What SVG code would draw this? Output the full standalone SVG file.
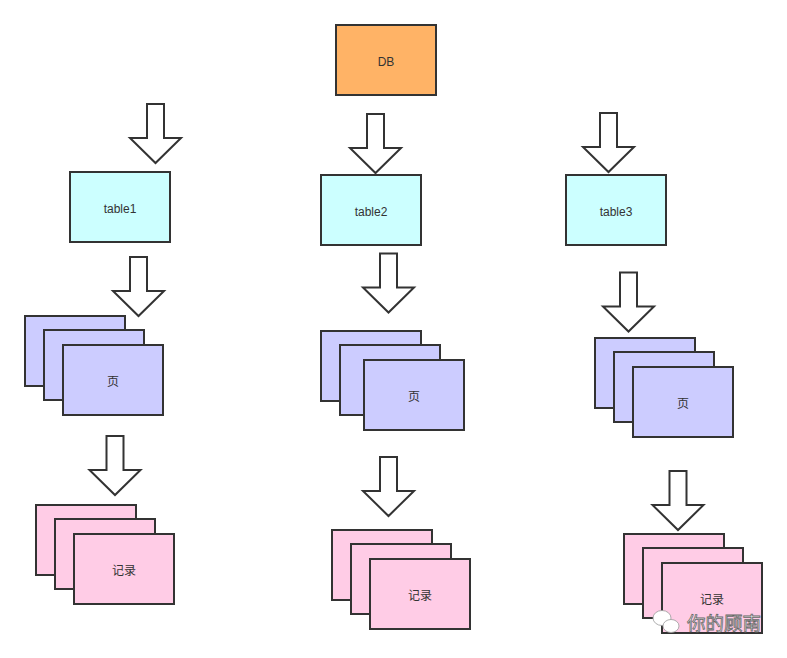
<svg xmlns="http://www.w3.org/2000/svg" xmlns:xlink="http://www.w3.org/1999/xlink" width="787" height="658" viewBox="0 0 787 658">
<style>
.box{stroke:#333333;stroke-width:2}
.db{fill:#FFB366}
.tb{fill:#CCFFFF}
.pg{fill:#CCCCFF}
.rc{fill:#FFCCE6}
.lbl{font-family:"Liberation Sans","Noto Sans CJK SC",sans-serif;font-size:12px;fill:#333333;text-anchor:middle;dominant-baseline:central}
.arrow{fill:#FFFFFF;stroke:#333333;stroke-width:2;stroke-linejoin:miter}
.wm{font-family:"Noto Sans CJK SC",sans-serif;font-size:18.5px;fill:#FFFFFF;stroke:#666666;stroke-width:0.8}
</style>
<defs>
<path id="darrow" class="arrow" d="M-8.5,0 H8.5 V34 H25.5 L0,59 L-25.5,34 H-8.5 Z"/>
</defs>
<g id="connectors">
<use xlink:href="#darrow" href="#darrow" transform="translate(155.5,104)"/>
<use xlink:href="#darrow" href="#darrow" transform="translate(375.5,114)"/>
<use xlink:href="#darrow" href="#darrow" transform="translate(608.5,113)"/>
<use xlink:href="#darrow" href="#darrow" transform="translate(138.5,257)"/>
<use xlink:href="#darrow" href="#darrow" transform="translate(388.5,253.5)"/>
<use xlink:href="#darrow" href="#darrow" transform="translate(628.5,272.5)"/>
<use xlink:href="#darrow" href="#darrow" transform="translate(115,436)"/>
<use xlink:href="#darrow" href="#darrow" transform="translate(388.5,457)"/>
<use xlink:href="#darrow" href="#darrow" transform="translate(678,471)"/>
</g>
<g id="db">
<rect class="box db" x="336" y="25" width="100" height="70"/>
<text class="lbl" x="386" y="61.5">DB</text>
</g>
<g id="table1">
<rect class="box tb" x="70" y="172" width="100" height="70"/>
<text class="lbl" x="120" y="208.5">table1</text>
</g>
<g id="table2">
<rect class="box tb" x="321" y="175" width="100" height="70"/>
<text class="lbl" x="371" y="211.5">table2</text>
</g>
<g id="table3">
<rect class="box tb" x="566" y="175" width="100" height="70"/>
<text class="lbl" x="616" y="211.5">table3</text>
</g>
<g id="pages1">
<rect class="box pg" x="25" y="316" width="100" height="70"/>
<rect class="box pg" x="44" y="330" width="100" height="70"/>
<rect class="box pg" x="63" y="345" width="100" height="70"/>
<text class="lbl" x="113" y="381.5">页</text>
</g>
<g id="pages2">
<rect class="box pg" x="321" y="331" width="100" height="70"/>
<rect class="box pg" x="340" y="345" width="100" height="70"/>
<rect class="box pg" x="364" y="360" width="100" height="70"/>
<text class="lbl" x="414" y="396.5">页</text>
</g>
<g id="pages3">
<rect class="box pg" x="595" y="338" width="100" height="70"/>
<rect class="box pg" x="614" y="352" width="100" height="70"/>
<rect class="box pg" x="633" y="367" width="100" height="70"/>
<text class="lbl" x="683" y="403.5">页</text>
</g>
<g id="records1">
<rect class="box rc" x="36" y="505" width="100" height="70"/>
<rect class="box rc" x="55" y="519" width="100" height="70"/>
<rect class="box rc" x="74" y="534" width="100" height="70"/>
<text class="lbl" x="124" y="570.5">记录</text>
</g>
<g id="records2">
<rect class="box rc" x="332" y="530" width="100" height="70"/>
<rect class="box rc" x="351" y="544" width="100" height="70"/>
<rect class="box rc" x="370" y="559" width="100" height="70"/>
<text class="lbl" x="420" y="595.5">记录</text>
</g>
<g id="records3">
<rect class="box rc" x="624" y="534" width="100" height="70"/>
<rect class="box rc" x="643" y="548" width="100" height="70"/>
<rect class="box rc" x="662" y="563" width="100" height="70"/>
<text class="lbl" x="712" y="599.5">记录</text>
</g>
<g id="watermark">
<ellipse cx="662" cy="618" rx="9" ry="7.5" fill="#FFFFFF" stroke="#999999" stroke-width="0.8"/>
<ellipse cx="671" cy="626" rx="8" ry="6.5" fill="#FFFFFF" stroke="#999999" stroke-width="0.8"/>
<text class="wm" x="687" y="630">你的顾南</text>
</g>
</svg>
